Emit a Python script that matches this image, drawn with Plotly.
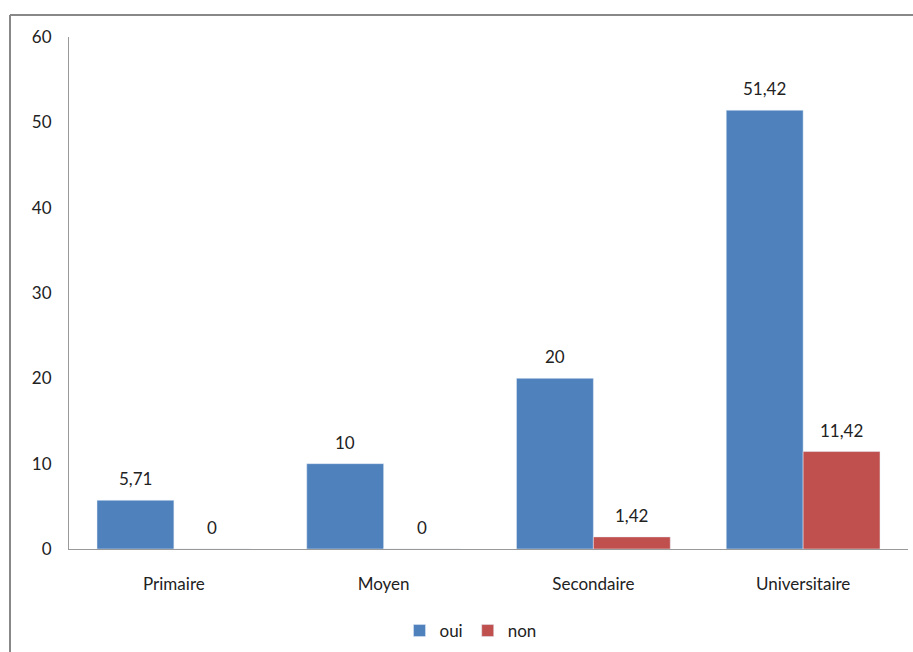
import plotly.graph_objects as go

categories = ["Primaire", "Moyen", "Secondaire", "Universitaire"]
oui = [5.71, 10, 20, 51.42]
non = [0, 0, 1.42, 11.42]
y_ticks = [0, 10, 20, 30, 40, 50, 60]

def fmt(v):
    return ("%g" % v).replace(".", ",")

W, H = 913, 652
L, R, T, B = 69, 5, 37, 103
pw, ph = W - L - R, H - T - B
FONT = "Lato, Carlito, sans-serif"
FS = 17

fig = go.Figure()
fig.add_trace(go.Bar(x=categories, y=oui, name="oui", marker_color="#4F81BD"))
fig.add_trace(go.Bar(x=categories, y=non, name="non", marker_color="#C0504D"))

cat_w = pw / len(categories)
bar_w = cat_w * (1 - 0.267) / 2
for series, sign in ((oui, -1), (non, 1)):
    for c, v in zip(categories, series):
        fig.add_annotation(x=c, y=v, xref="x", yref="y", text=fmt(v), showarrow=False,
                           xshift=sign * bar_w / 2, yanchor="bottom", yshift=9,
                           font=dict(size=FS, color="#222", family=FONT))

# outer frame
fx0 = (10 - L) / pw
fy1 = 1 + (T - 15) / ph
fig.add_shape(type="line", xref="paper", yref="paper", x0=fx0, x1=fx0, y0=fy1, y1=-B / ph - 0.1,
              line=dict(color="#888", width=2))
fig.add_shape(type="line", xref="paper", yref="paper", x0=fx0, x1=1.1, y0=fy1, y1=fy1,
              line=dict(color="#888", width=2))

fig.update_layout(
    width=W, height=H,
    margin=dict(l=L, r=R, t=T, b=B, autoexpand=False),
    paper_bgcolor="white", plot_bgcolor="white",
    barmode="group", bargap=0.267, bargroupgap=0,
    font=dict(family=FONT, size=FS, color="#222"),
    showlegend=True,
    legend=dict(orientation="h", x=0.5 + 14 / W, xref="container", xanchor="center",
                y=1 - 631 / H, yref="container", yanchor="middle",
                font=dict(size=FS), itemwidth=30, traceorder="normal"),
    xaxis=dict(showline=True, linecolor="#999", linewidth=1, ticks="outside", ticklen=20,
               tickcolor="rgba(0,0,0,0)", showgrid=False, tickfont=dict(size=FS)),
    yaxis=dict(range=[0, 60], tickvals=y_ticks, showline=True, linecolor="#999", linewidth=1,
               ticks="outside", ticklen=13, tickcolor="rgba(0,0,0,0)", showgrid=False,
               zeroline=False, tickfont=dict(size=FS)),
)

fig.write_html("out.html")
